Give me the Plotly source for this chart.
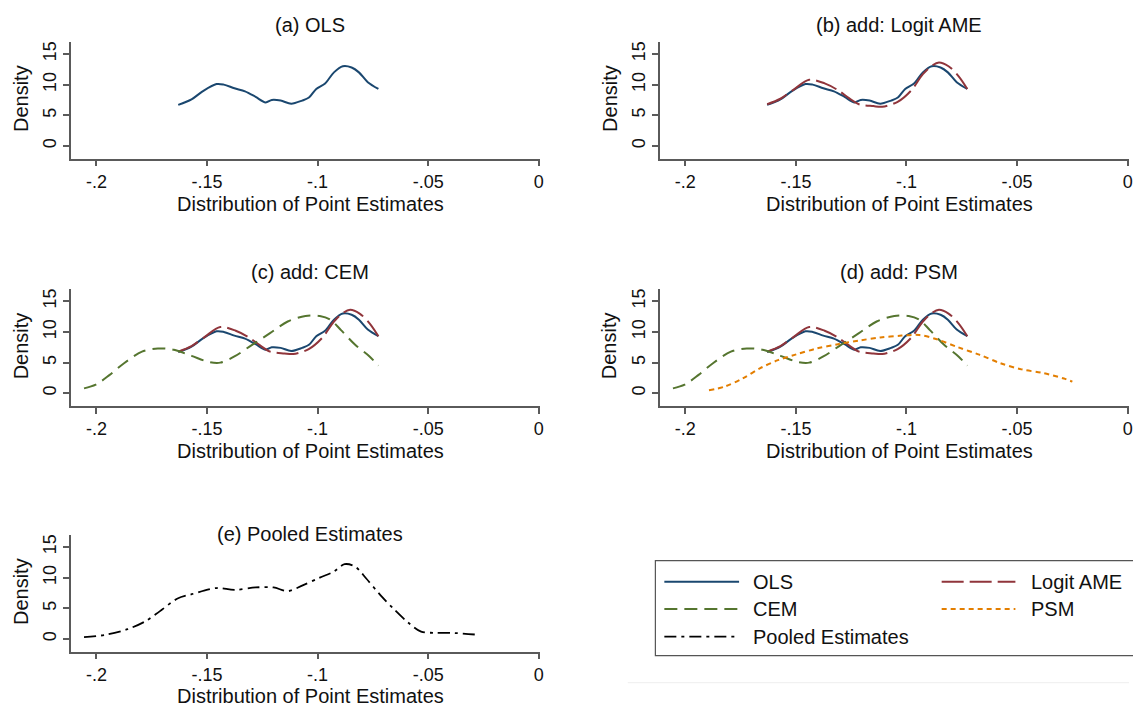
import plotly.graph_objects as go

W, H = 1133, 707

# ---------------- data ----------------
ols_x = [-0.163, -0.157, -0.152, -0.1457, -0.1424, -0.1376, -0.1328, -0.128, -0.1235, -0.1207,
         -0.1167, -0.1119, -0.107, -0.1039, -0.1006, -0.0966, -0.0926, -0.0886, -0.0846, -0.0813,
         -0.0773, -0.0725]
ols_y = [6.7, 7.6, 8.9, 10.1, 10.0, 9.4, 8.9, 8.0, 7.1, 7.5,
         7.4, 6.9, 7.4, 7.9, 9.3, 10.2, 12.0, 13.0, 12.8, 12.0,
         10.4, 9.3]

logit_x = [-0.163, -0.157, -0.151, -0.144, -0.137, -0.131, -0.126, -0.1215, -0.115, -0.111,
           -0.104, -0.098, -0.0926, -0.0885, -0.0853, -0.081, -0.0765, -0.0725]
logit_y = [6.8, 7.7, 9.2, 10.8, 10.2, 9.1, 7.8, 6.8, 6.5, 6.4,
           7.2, 9.0, 11.7, 13.1, 13.6, 13.0, 11.4, 9.3]

cem_x = [-0.2056, -0.2003, -0.194, -0.1875, -0.1794, -0.1722, -0.165, -0.157, -0.149, -0.144,
         -0.1376, -0.1296, -0.1215, -0.1135, -0.1055, -0.099, -0.0942, -0.0894, -0.083, -0.0765,
         -0.0725]
cem_y = [0.8, 1.4, 3.0, 4.9, 6.8, 7.3, 7.1, 6.1, 5.1, 5.0,
         6.0, 7.9, 9.8, 11.7, 12.6, 12.6, 12.0, 10.3, 7.9, 6.0,
         4.5]

psm_x = [-0.1893, -0.1821, -0.1741, -0.1661, -0.1581, -0.1502, -0.1406, -0.131, -0.1214, -0.1118,
         -0.1022, -0.0942, -0.0863, -0.0767, -0.0671, -0.0575, -0.048, -0.0383, -0.0288, -0.025]
psm_y = [0.5, 1.1, 2.4, 4.1, 5.4, 6.3, 7.3, 8.0, 8.6, 9.1,
         9.4, 9.5, 8.8, 7.5, 6.3, 4.9, 3.9, 3.3, 2.4, 1.9]

pooled_x = [-0.2056, -0.1955, -0.1859, -0.1778, -0.1714, -0.1633, -0.1569, -0.1457, -0.1376, -0.128,
            -0.1199, -0.1135, -0.107, -0.099, -0.0926, -0.0878, -0.083, -0.0781, -0.0717, -0.0653,
            -0.0588, -0.0532, -0.0476, -0.0396, -0.028]
pooled_y = [0.3, 0.7, 1.6, 2.9, 4.5, 6.6, 7.3, 8.3, 8.0, 8.4,
            8.4, 7.8, 8.7, 10.0, 11.0, 12.2, 11.8, 9.9, 7.2, 4.8,
            2.6, 1.2, 1.0, 1.0, 0.7]

panel_titles = ["(a) OLS", "(b) add: Logit AME", "(c) add: CEM", "(d) add: PSM", "(e) Pooled Estimates"]
x_ticks = [-0.2, -0.15, -0.1, -0.05, 0]
x_ticklabels = ["-.2", "-.15", "-.1", "-.05", "0"]
y_ticks = [0, 5, 10, 15]
y_ticklabels = ["0", "5", "10", "15"]
x_title = "Distribution of Point Estimates"
y_title = "Density"
series_names = ["OLS", "Logit AME", "CEM", "PSM", "Pooled Estimates"]

# ---------------- styles ----------------
FONT = "Liberation Sans, Arial, Helvetica, sans-serif"
C_OLS, C_LOGIT, C_CEM, C_PSM, C_POOL = "#1a476f", "#90353b", "#55752f", "#e37e00", "#000000"
AXC = "#5a5a5a"
styles = {
    "OLS": dict(color=C_OLS, width=2, dash="solid"),
    "Logit AME": dict(color=C_LOGIT, width=2, dash="22px,6px"),
    "CEM": dict(color=C_CEM, width=2, dash="13px,7px"),
    "PSM": dict(color=C_PSM, width=2, dash="5px,4px"),
    "Pooled Estimates": dict(color=C_POOL, width=1.8, dash="12px,5px,3px,5px"),
}
series = {
    "OLS": (ols_x, ols_y),
    "Logit AME": (logit_x, logit_y),
    "CEM": (cem_x, cem_y),
    "PSM": (psm_x, psm_y),
    "Pooled Estimates": (pooled_x, pooled_y),
}
panel_series = [
    ["OLS"],
    ["OLS", "Logit AME"],
    ["OLS", "Logit AME", "CEM"],
    ["OLS", "Logit AME", "CEM", "PSM"],
    ["Pooled Estimates"],
]

# panel boxes in pixels: (left, right, top, bottom)
boxes = [
    (71, 542, 41.7, 158.5),
    (662, 1133, 41.7, 158.5),
    (71, 542, 289.0, 405.8),
    (662, 1133, 289.0, 405.8),
    (71, 542, 534.7, 651.5),
]
title_y = [24.5, 24.5, 271.5, 271.5, 533.5]
xtitle_y = [203.5, 203.5, 450.5, 450.5, 695.5]
title_dx = 5.0  # title center offset from domain center (px)

def px(x):
    return x / W

def py(y):
    return 1 - y / H

fig = go.Figure()
layout = dict(
    width=W, height=H, margin=dict(l=0, r=0, t=0, b=0),
    paper_bgcolor="white", plot_bgcolor="white",
    showlegend=False, font=dict(family=FONT, size=18, color="#111111"),
)
annotations = []
shapes = []

for i, (names, box) in enumerate(zip(panel_series, boxes)):
    k = "" if i == 0 else str(i + 1)
    l, r, t, b = box
    for n in names:
        xs, ys = series[n]
        fig.add_trace(go.Scatter(
            x=xs, y=ys, mode="lines", name=n, line=dict(shape="spline", smoothing=0.9, **styles[n]),
            xaxis="x" + k, yaxis="y" + k, hoverinfo="skip"))
    layout["xaxis" + k] = dict(
        domain=[px(l), px(r)], range=[-0.2116, 0.0006], anchor="y" + k,
        showline=True, linecolor=AXC, linewidth=1.5, ticks="outside", ticklen=6, tickwidth=1.5,
        tickcolor=AXC, tickvals=x_ticks, ticktext=x_ticklabels, showgrid=False, zeroline=False,
        tickfont=dict(size=18, family=FONT, color="#111111"))
    layout["yaxis" + k] = dict(
        domain=[py(b), py(t)], range=[-2.04, 17.0], anchor="x" + k,
        showline=True, linecolor=AXC, linewidth=1.5, ticks="outside", ticklen=6, tickwidth=1.5,
        tickcolor=AXC, tickvals=y_ticks, ticktext=y_ticklabels, tickangle=-90, showgrid=False,
        zeroline=False, tickfont=dict(size=18, family=FONT, color="#111111"))
    cx = (l + r) / 2 + title_dx
    annotations.append(dict(text=panel_titles[i], x=px(cx), y=py(title_y[i]), xref="paper", yref="paper",
                            showarrow=False, xanchor="center", yanchor="middle",
                            font=dict(size=20, family=FONT, color="#111111")))
    annotations.append(dict(text=x_title, x=px(cx), y=py(xtitle_y[i]), xref="paper", yref="paper",
                            showarrow=False, xanchor="center", yanchor="middle",
                            font=dict(size=20, family=FONT, color="#111111")))
    annotations.append(dict(text=y_title, x=px(l - 50.5), y=py((t + b) / 2 - 1.5), xref="paper", yref="paper",
                            showarrow=False, xanchor="center", yanchor="middle", textangle=-90,
                            font=dict(size=20, family=FONT, color="#111111")))

# ---------------- legend (drawn manually) ----------------
shapes.append(dict(type="line", xref="paper", yref="paper", x0=px(630), x1=1.0, y0=py(682.7), y1=py(682.7),
                   line=dict(color="#eeeeee", width=1)))
shapes.append(dict(type="rect", xref="paper", yref="paper", x0=px(657.7), x1=px(1140), y0=py(655.7), y1=py(560.7),
                   line=dict(color="#555555", width=1.2), fillcolor="white"))
leg_rows = [581.7, 609.0, 636.7]
leg_cols = [(666.7, 741.7, 754.0), (945.0, 1019.0, 1032.7)]
leg_pos = {
    "OLS": (0, 0), "Logit AME": (0, 1), "CEM": (1, 0), "PSM": (1, 1), "Pooled Estimates": (2, 0),
}
for n in series_names:
    row, col = leg_pos[n]
    x0, x1, xt = leg_cols[col]
    yy = leg_rows[row]
    st = styles[n]
    shapes.append(dict(type="line", xref="paper", yref="paper", x0=px(x0), x1=px(x1), y0=py(yy), y1=py(yy),
                       line=dict(color=st["color"], width=st["width"], dash=st["dash"])))
    annotations.append(dict(text=n, x=px(xt), y=py(yy), xref="paper", yref="paper", showarrow=False,
                            xanchor="left", yanchor="middle", font=dict(size=20, family=FONT, color="#111111")))

layout["annotations"] = annotations
layout["shapes"] = shapes
fig.update_layout(**layout)
fig.write_html("out.html")
